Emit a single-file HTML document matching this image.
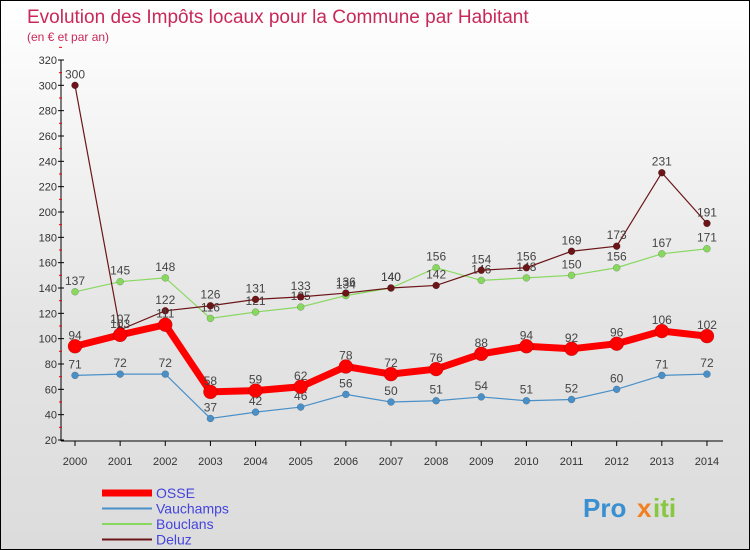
<!DOCTYPE html>
<html><head><meta charset="utf-8"><style>
body{margin:0}
#c{width:750px;height:550px;position:relative;box-sizing:border-box;border:1px solid #000;background:linear-gradient(#fff,#e4e4e4 60%,#dcdcdc);font-family:"Liberation Sans",sans-serif;overflow:hidden}
</style></head><body>
<div id="c">
<svg id="s" width="748" height="548" style="position:absolute;left:0;top:0"></svg>
</div>
<script>
const years=[2000,2001,2002,2003,2004,2005,2006,2007,2008,2009,2010,2011,2012,2013,2014];
const osse=[94,103,111,58,59,62,78,72,76,88,94,92,96,106,102];
const vauchamps=[71,72,72,37,42,46,56,50,51,54,51,52,60,71,72];
const bouclans=[137,145,148,116,121,125,134,140,156,146,148,150,156,167,171];
const deluz=[300,107,122,126,131,133,136,140,142,154,156,169,173,231,191];
const yTicks=[20,40,60,80,100,120,140,160,180,200,220,240,260,280,300,320];
const s=document.getElementById('s');const NS='http://www.w3.org/2000/svg';
function el(t,a,txt){const e=document.createElementNS(NS,t);for(const k in a)e.setAttribute(k,a[k]);if(txt!=null)e.textContent=txt;s.appendChild(e);return e;}
const X=i=>74+i*45.14;const Y=v=>439-(v-20)*1.2667;
let e;
e=el('text',{x:26,y:22,fill:'#c8285a','font-size':19},'Evolution des Impôts locaux pour la Commune par Habitant');

e=el('text',{x:26,y:40,fill:'#c8285a','font-size':12},'(en € et par an)');

e=el('line',{x1:60,y1:59,x2:60,y2:440,stroke:'#000'});

e=el('line',{x1:60,y1:440,x2:722,y2:440,stroke:'#000'});

yTicks.forEach(v=>{
 e=el('line',{x1:57,y1:Y(v),x2:63,y2:Y(v),stroke:'#000'});
 
 e=el('line',{x1:58,y1:Y(v+10),x2:61,y2:Y(v+10),stroke:'#e00'});
 
 e=el('text',{x:56,y:Y(v)+4,'text-anchor':'end','font-size':11,fill:'#333'},v);
 
});
years.forEach((y,i)=>{
 e=el('line',{x1:X(i),y1:440,x2:X(i),y2:445,stroke:'#000'});
 
 e=el('text',{x:X(i),y:464,'text-anchor':'middle','font-size':11,fill:'#333'},y);
 
});
function series(d,col,w,r,name){
 e=el('polyline',{points:d.map((v,i)=>X(i)+','+Y(v)).join(' '),fill:'none',stroke:col,'stroke-width':w});
 
 d.forEach((v,i)=>{
  e=el('circle',{cx:X(i),cy:Y(v),r:r,fill:col,stroke:'rgba(0,0,0,0.3)','stroke-width':0.5});
  
  e=el('text',{x:X(i),y:Y(v)-7,'text-anchor':'middle','font-size':12,fill:'#444'},v);
  
 });
}
series(bouclans,'#88d860',1.2,3.5,'bouclans');
series(deluz,'#6b1518',1.2,3.5,'deluz');
series(vauchamps,'#4a90c8',1.2,3.5,'vauchamps');
series(osse,'#f00',7,7,'osse');
const leg=[['OSSE','#f00',7],['Vauchamps','#4a90c8',2],['Bouclans','#88d860',2],['Deluz','#6b1518',2]];
leg.forEach((l,i)=>{
 const y=492+i*15.5;
 e=el('line',{x1:101,y1:y,x2:151,y2:y,stroke:l[1],'stroke-width':l[2]});
 
 e=el('text',{x:155,y:y+5,'font-size':14,fill:'#4444dd'},l[0]);
 
});
e=el('text',{x:582,y:516,'font-size':26,'font-weight':'bold',fill:'#3a8fd0'},'Pro');

e=el('text',{x:636,y:516,'font-size':26,'font-weight':'bold',fill:'#f08020'},'x');

e=el('text',{x:652,y:516,'font-size':26,'font-weight':'bold',fill:'#88c840'},'iti');

</script>
</body></html>
